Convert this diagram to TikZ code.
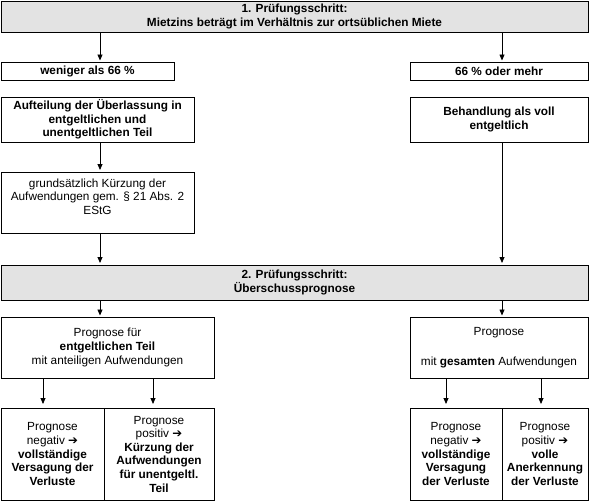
\documentclass[tikz,border=0pt]{standalone}
\usepackage{fontspec}
\setmainfont{Liberation Sans}
\newfontfamily\dejavu{DejaVu Sans}
\usetikzlibrary{arrows.meta}
\newcommand{\rarr}{{\dejavu\char"2794}}
\begin{document}
\begin{tikzpicture}[x=1pt,y=-1pt,
  box/.style={draw=black, line width=0.8pt, fill=white, inner sep=0pt, outer sep=0pt,
     align=center, font=\fontsize{11.8}{13.6}\selectfont},
  graybox/.style={box, fill=black!11},
  arr/.style={draw=black, line width=0.8pt, -{Triangle[length=6pt,width=5pt]}}]
\useasboundingbox (0,0) rectangle (589,501);
% top step
\node[graybox, minimum width=587, minimum height=31] (s1) at (294.5,16.5)
  {\textbf{1. Prüfungsschritt:}\\ \textbf{Mietzins beträgt im Verhältnis zur ortsüblichen Miete}};
\node[box, minimum width=173, minimum height=18] (wen) at (87.5,71) {\textbf{weniger als 66 \%}};
\node[box, minimum width=178, minimum height=18] (mehr) at (499,71) {\textbf{66 \% oder mehr}};
\node[box, minimum width=193, minimum height=45] (auf) at (97.5,119.5)
  {\textbf{Aufteilung der Überlassung in}\\ \textbf{entgeltlichen und}\\ \textbf{unentgeltlichen Teil}};
\node[box, minimum width=178, minimum height=45] (beh) at (499,119.5)
  {\textbf{Behandlung als voll}\\ \textbf{entgeltlich}};
\node[box, minimum width=193, minimum height=61] (gru) at (97.5,202.5)
  {grundsätzlich Kürzung der\\ Aufwendungen gem. § 21 Abs. 2\\ EStG\\[-2pt]~};
\node[graybox, minimum width=587, minimum height=35] (s2) at (294.5,282.5)
  {\textbf{2. Prüfungsschritt:}\\ \textbf{Überschussprognose}};
\node[box, minimum width=213, minimum height=61] (pf) at (107.5,347.5)
  {Prognose für\\ \textbf{entgeltlichen Teil}\\ mit anteiligen Aufwendungen};
\node[box, minimum width=178, minimum height=61] (pr) at (499,347.5)
  {Prognose\\[16pt] mit \textbf{gesamten} Aufwendungen};
\node[box, minimum width=103, minimum height=92] (b1) at (52.5,454)
  {Prognose\\ negativ \rarr\\ \textbf{vollständige}\\ \textbf{Versagung der}\\ \textbf{Verluste}};
\node[box, minimum width=110, minimum height=92] (b2) at (159,454)
  {Prognose\\ positiv \rarr\\ \textbf{Kürzung der}\\ \textbf{Aufwendungen}\\ \textbf{für unentgeltl.}\\ \textbf{Teil}};
\node[box, minimum width=92, minimum height=92] (b3) at (456,454)
  {Prognose\\ negativ \rarr\\ \textbf{vollständige}\\ \textbf{Versagung}\\ \textbf{der Verluste}};
\node[box, minimum width=86, minimum height=92] (b4) at (545,454)
  {Prognose\\ positiv \rarr\\ \textbf{volle}\\ \textbf{Anerkennung}\\ \textbf{der Verluste}};
% arrow columns
\coordinate (xl) at (100,0);
\coordinate (xr) at (502,0);
\coordinate (x1) at (43,0);
\coordinate (x2) at (153,0);
\coordinate (x3) at (446,0);
\coordinate (x4) at (541,0);
\draw[arr] (s1.south -| xl) -- ([yshift=1.5pt]wen.north -| xl);
\draw[arr] (s1.south -| xr) -- ([yshift=1.5pt]mehr.north -| xr);
\draw[arr] (auf.south -| xl) -- ([yshift=2pt]gru.north -| xl);
\draw[arr] (gru.south -| xl) -- ([yshift=2pt]s2.north -| xl);
\draw[arr] (beh.south -| xr) -- ([yshift=2pt]s2.north -| xr);
\draw[arr] (s2.south -| xl) -- ([yshift=1.5pt]pf.north -| xl);
\draw[arr] (s2.south -| xr) -- ([yshift=1.5pt]pr.north -| xr);
\draw[arr] (pf.south -| x1) -- ([yshift=4pt]b1.north -| x1);
\draw[arr] (pf.south -| x2) -- ([yshift=4pt]b2.north -| x2);
\draw[arr] (pr.south -| x3) -- ([yshift=4pt]b3.north -| x3);
\draw[arr] (pr.south -| x4) -- ([yshift=4pt]b4.north -| x4);
\end{tikzpicture}
\end{document}
